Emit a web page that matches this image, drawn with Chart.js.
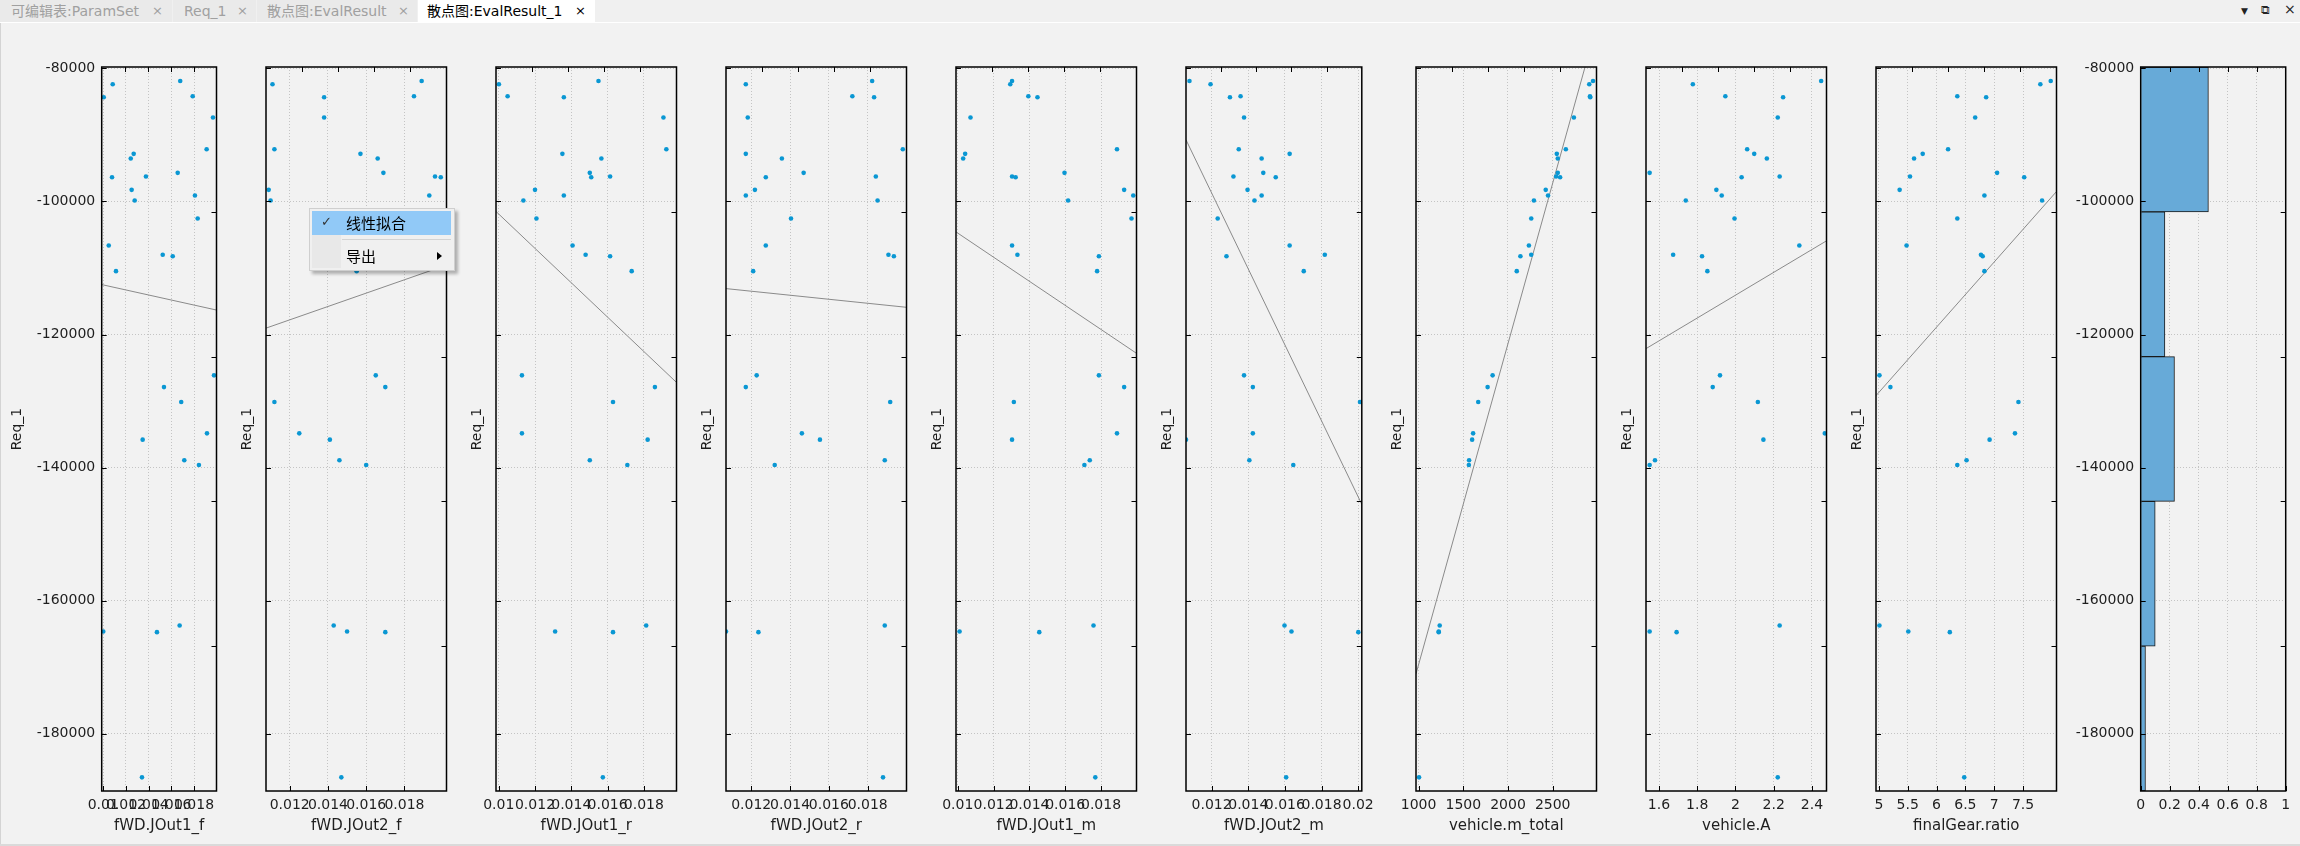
<!DOCTYPE html>
<html>
<head>
<meta charset="utf-8">
<script src="https://cdn.jsdelivr.net/npm/chart.js@4.4.0/dist/chart.umd.min.js"></script>
<style>
  body { margin: 0; width: 2300px; height: 846px; background: #f2f2f2; overflow: hidden; position: relative;
         font-family: "DejaVu Sans", "Noto Sans CJK SC", sans-serif; }
  #tabbar { position: absolute; left: 0; top: 0; width: 2300px; height: 22px; background: #f0f0f0; border-bottom: 1px solid #fff; }
  .tab { position: absolute; top: 0; height: 22px; line-height: 22px; font-size: 14px; color: #a0a0a0; background: #eaeaea; white-space: nowrap; }
  .tab.active { background: #fff; color: #000; }
  .tab .x { position: absolute; top: 0; font-size: 13px; }
  .win { position: absolute; top: 3px; font-size: 12px; color: #222; }
  .panel { position: absolute; top: 24px; }
  #leftline { position: absolute; left: 0; top: 23px; width: 1px; height: 823px; background: #d4d4d4; }
  #bottomline { position: absolute; left: 0; top: 844px; width: 2300px; height: 2px; background: #dadada; }
  #menu { position: absolute; left: 309px; top: 208px; width: 144px; height: 61px; background: #f0f0f0;
          border: 1px solid #cfcfcf; box-shadow: 3px 3px 3px rgba(0,0,0,0.28); font-family: "Noto Sans CJK SC", sans-serif; }
  #menu .icol { position: absolute; left: 2px; top: 2px; width: 29px; height: 57px; background: #e8e8e8; }
  #menu .hl { position: absolute; left: 2px; top: 2px; width: 139px; height: 24px; background: #91c9f7; }
  #menu .item { position: absolute; left: 36px; font-size: 15px; color: #000; line-height: 20px; }
  #menu .sep { position: absolute; left: 32px; top: 30px; width: 109px; height: 1px; background: #d3d3d3; }
  #menu .chk { position: absolute; left: 11px; top: 5px; font-size: 13px; color: #333; font-family: "DejaVu Sans"; }
  #menu .arr { position: absolute; left: 127px; top: 43px; width: 0; height: 0; border-top: 4px solid transparent;
               border-bottom: 4px solid transparent; border-left: 5px solid #000; }
</style>
</head>
<body>
<div id="tabbar">
  <div class="tab" style="left:0;width:172px"><span style="position:absolute;left:11px">可编辑表:ParamSet</span><span class="x" style="left:152px">×</span></div>
  <div class="tab" style="left:173px;width:83px"><span style="position:absolute;left:11px">Req_1</span><span class="x" style="left:64px">×</span></div>
  <div class="tab" style="left:257px;width:160px"><span style="position:absolute;left:10px">散点图:EvalResult</span><span class="x" style="left:141px">×</span></div>
  <div class="tab active" style="left:418px;width:177px"><span style="position:absolute;left:9px">散点图:EvalResult_1</span><span class="x" style="left:157px">×</span></div>
  <div class="win" style="left:2241px;font-size:9px;top:6px">▼</div>
  <div class="win" style="left:2261px">⧉</div>
  <div class="win" style="left:2284px;font-size:14px;top:1px">×</div>
</div>
<div id="leftline"></div>
<div id="bottomline"></div>
<div id="charts"></div>
<div id="menu">
  <div class="icol"></div>
  <div class="hl"></div>
  <div class="chk">✓</div>
  <div class="item" style="top:4px">线性拟合</div>
  <div class="sep"></div>
  <div class="item" style="top:37px">导出</div>
  <div class="arr"></div>
</div>
<script>
// Req_1 values (shared y of every scatter panel)
const req1 = [-81900, -82400, -84200, -84350, -87400, -92160, -92850, -93560, -95710, -96260,
              -96370, -98260, -99110, -99870, -102570, -106620, -108020, -108230, -110480, -126140,
              -127900, -130150, -134850, -135800, -138900, -139610, -163720, -164620, -164730, -186550];

// x values of each panel, same order as req1
const jout1F = [0.01678, 0.01083, 0.01788, 0.01004, 0.01967, 0.01911, 0.01268, 0.01242, 0.01656, 0.01376,
                0.01077, 0.01250, 0.01808, 0.01277, 0.01832, 0.01048, 0.01524, 0.01612, 0.01112, 0.01976,
                0.01535, 0.01687, 0.01914, 0.01347, 0.01714, 0.01843, 0.01673, 0.01000, 0.01473, 0.01341];
const jout2F = [0.0189, 0.0111, 0.0185, 0.0138, 0.0138, 0.0112, 0.0157, 0.0166, 0.0169, 0.0196,
                0.0199, 0.0109, 0.0193, 0.0110, 0.0140, 0.0165, 0.0170, 0.0172, 0.0155, 0.0165,
                0.0170, 0.0112, 0.0125, 0.0141, 0.0146, 0.0160, 0.0143, 0.0150, 0.0170, 0.0147];
const jout1R = [0.01550, 0.01001, 0.01049, 0.01359, 0.01908, 0.01924, 0.01351, 0.01566, 0.01502, 0.01614,
                0.01510, 0.01200, 0.01359, 0.01136, 0.01208, 0.01407, 0.01479, 0.01614, 0.01733, 0.01128,
                0.01861, 0.01630, 0.01128, 0.01821, 0.01502, 0.01709, 0.01813, 0.01311, 0.01630, 0.01574];
const jout2R = [0.01823, 0.01172, 0.01721, 0.01833, 0.01182, 0.01981, 0.01172, 0.01358, 0.01470, 0.01842,
                0.01275, 0.01219, 0.01172, 0.01851, 0.01405, 0.01275, 0.01907, 0.01935, 0.01210, 0.01228,
                0.01172, 0.01916, 0.01461, 0.01554, 0.01888, 0.01321, 0.01888, 0.01070, 0.01237, 0.01879];
const jout1M = [0.01303, 0.01293, 0.01394, 0.01445, 0.01071, 0.01889, 0.01041, 0.01030, 0.01596, 0.01303,
                0.01323, 0.01929, 0.01980, 0.01616, 0.01970, 0.01303, 0.01333, 0.01788, 0.01778, 0.01788,
                0.01929, 0.01313, 0.01889, 0.01303, 0.01737, 0.01707, 0.01758, 0.01010, 0.01455, 0.01768];
const jout2M = [0.01079, 0.01194, 0.01358, 0.01300, 0.01377, 0.01348, 0.01626, 0.01473, 0.01482, 0.01319,
                0.01550, 0.01396, 0.01473, 0.01434, 0.01233, 0.01626, 0.01818, 0.01281, 0.01703, 0.01377,
                0.01425, 0.02010, 0.01425, 0.01060, 0.01406, 0.01646, 0.01598, 0.01636, 0.02001, 0.01607];
const mTotal = [2951, 2909, 2917, 2920, 2737, 2647, 2546, 2557, 2557, 2538,
                2583, 2422, 2448, 2290, 2260, 2234, 2260, 2139, 2098, 1828,
                1772, 1667, 1610, 1599, 1565, 1562, 1236, 1225, 1225, 1005];
const vehA = [2.448, 1.777, 1.947, 2.249, 2.221, 2.061, 2.098, 2.164, 1.551, 2.231,
              2.032, 1.900, 1.928, 1.740, 1.995, 2.334, 1.674, 1.825, 1.853, 1.919,
              1.881, 2.117, 2.467, 2.146, 1.579, 1.551, 2.231, 1.551, 1.692, 2.221];
const gearRatio = [7.98, 7.80, 6.36, 6.86, 6.67, 6.20, 5.76, 5.61, 7.05, 5.54,
                   7.52, 5.36, 6.83, 7.83, 6.36, 5.48, 6.77, 6.80, 6.83, 5.01,
                   5.20, 7.42, 7.36, 6.92, 6.52, 6.36, 5.01, 5.51, 6.23, 6.48];

// axis names, ranges and tick labels
const xNames = ['fWD.JOut1_f', 'fWD.JOut2_f', 'fWD.JOut1_r', 'fWD.JOut2_r', 'fWD.JOut1_m',
                'fWD.JOut2_m', 'vehicle.m_total', 'vehicle.A', 'finalGear.ratio'];
const xSeries = [jout1F, jout2F, jout1R, jout2R, jout1M, jout2M, mTotal, vehA, gearRatio];
const xMins = [0.00986, 0.01076, 0.00985, 0.0107, 0.0099, 0.0106, 971, 1.532, 4.95];
const xMaxs = [0.01998, 0.0202, 0.01980, 0.0200, 0.01998, 0.0202, 2990, 2.476, 8.08];
const xTicks = [
  [0.01, 0.012, 0.014, 0.016, 0.018],
  [0.012, 0.014, 0.016, 0.018],
  [0.01, 0.012, 0.014, 0.016, 0.018],
  [0.012, 0.014, 0.016, 0.018],
  [0.01, 0.012, 0.014, 0.016, 0.018],
  [0.012, 0.014, 0.016, 0.018, 0.02],
  [1000, 1500, 2000, 2500],
  [1.6, 1.8, 2, 2.2, 2.4],
  [5, 5.5, 6, 6.5, 7, 7.5]
];
const shareTicks = [0, 0.2, 0.4, 0.6, 0.8, 1];

const yMin = -188600, yMax = -79800;
const yTicks = [-180000, -160000, -140000, -120000, -100000, -80000];

// histogram of Req_1 (share of samples per bin)
const binEdges = [-79800, -101560, -123320, -145080, -166840, -188600];
const histShare = [0.467, 0.167, 0.233, 0.100, 0.033];
const topTickFractions = [0.2, 0.4, 0.6, 0.8];

Chart.defaults.font.family = '"DejaVu Sans", sans-serif';
Chart.defaults.font.size = 14;
Chart.defaults.color = '#1e1e1e';

const fmt = v => String(Number(Number(v).toFixed(6)));

// inward tick marks on all four sides + black frame
const frameTicks = {
  id: 'frameTicks',
  afterDatasetsDraw(chart) {
    const ctx = chart.ctx, a = chart.chartArea;
    const sx = chart.scales.x, sy = chart.scales.y;
    const L = 5;
    ctx.save();
    ctx.strokeStyle = '#000';
    ctx.lineWidth = 1;
    ctx.beginPath();
    sx.ticks.forEach(t => {
      const p = Math.round(sx.getPixelForValue(t.value)) + 0.5;
      ctx.moveTo(p, a.bottom); ctx.lineTo(p, a.bottom - L);
    });
    sy.ticks.forEach(t => {
      const p = Math.round(sy.getPixelForValue(t.value)) + 0.5;
      ctx.moveTo(a.left, p); ctx.lineTo(a.left + L, p);
    });
    topTickFractions.forEach(f => {
      const p = Math.round(a.left + f * (a.right - a.left)) + 0.5;
      ctx.moveTo(p, a.top); ctx.lineTo(p, a.top + L);
    });
    binEdges.slice(1, -1).forEach(v => {
      const p = Math.round(sy.getPixelForValue(v)) + 0.5;
      ctx.moveTo(a.right, p); ctx.lineTo(a.right - L, p);
    });
    ctx.stroke();
    ctx.lineWidth = 1.5;
    ctx.strokeRect(a.left, a.top, a.right - a.left, a.bottom - a.top);
    ctx.restore();
  }
};

function makeCanvas(i) {
  const c = document.createElement('canvas');
  c.width = 230; c.height = 815;
  c.className = 'panel';
  c.style.left = (230 * i) + 'px';
  c.style.width = '230px'; c.style.height = '815px';
  document.getElementById('charts').appendChild(c);
  return c;
}

function xScale(min, max, ticks, title) {
  return {
    type: 'linear', position: 'bottom', min: min, max: max,
    afterFit: s => { s.height = 48; },
    afterBuildTicks: s => { s.ticks = ticks.map(v => ({ value: v })); },
    ticks: { autoSkip: false, maxRotation: 0, minRotation: 0, padding: 6, callback: fmt },
    grid: { color: '#c4c4c4', drawTicks: false },
    border: { display: false, dash: [1, 2] },
    title: { display: !!title, text: title, font: { size: 15 }, padding: { top: 0, bottom: 4 } }
  };
}

function yScale(width, showLabels, showTitle) {
  return {
    type: 'linear', position: 'left', min: yMin, max: yMax, offset: false,
    afterFit: s => { s.width = width; },
    afterBuildTicks: s => { s.ticks = yTicks.map(v => ({ value: v })); },
    ticks: { display: showLabels, padding: 6.5, callback: fmt },
    grid: { color: '#c4c4c4', drawTicks: false, offset: false },
    border: { display: false, dash: [1, 2] },
    title: { display: showTitle, text: 'Req_1', font: { size: 14 }, padding: { top: 8.5, bottom: 0 } }
  };
}

const yWidths = [101.7, 36, 36, 36, 36, 36, 36, 36, 36];

xSeries.forEach((xs, i) => {
  // least squares fit of Req_1 on x
  const n = xs.length;
  let sx = 0, sy = 0, sxx = 0, sxy = 0;
  for (let k = 0; k < n; k++) { sx += xs[k]; sy += req1[k]; sxx += xs[k] * xs[k]; sxy += xs[k] * req1[k]; }
  const b = (n * sxy - sx * sy) / (n * sxx - sx * sx);
  const a0 = (sy - b * sx) / n;
  const fit = [{ x: xMins[i], y: a0 + b * xMins[i] }, { x: xMaxs[i], y: a0 + b * xMaxs[i] }];

  new Chart(makeCanvas(i), {
    type: 'scatter',
    data: {
      datasets: [
        { data: xs.map((x, k) => ({ x: x, y: req1[k] })), backgroundColor: '#0a97d3', borderWidth: 0,
          pointRadius: 2.3, order: 1 },
        { type: 'line', data: fit, borderColor: '#8a8a8a', borderWidth: 1, pointRadius: 0, fill: false, order: 2 }
      ]
    },
    options: {
      responsive: false, devicePixelRatio: 1, animation: false,
      layout: { padding: { top: 43, right: 13.5, left: 0, bottom: 0 } },
      plugins: { legend: { display: false }, tooltip: { enabled: false } },
      scales: { x: xScale(xMins[i], xMaxs[i], xTicks[i], xNames[i]), y: yScale(yWidths[i], i === 0, true) }
    },
    plugins: [frameTicks]
  });
});

// histogram panel: bars sit on a hidden axis whose ticks are the bin edges
const binCenters = histShare.map((v, i) => (binEdges[i] + binEdges[i + 1]) / 2);
new Chart(makeCanvas(9), {
  type: 'bar',
  data: {
    datasets: [{
      yAxisID: 'yb',
      data: histShare.map((v, i) => ({ x: v, y: binCenters[i] })),
      backgroundColor: '#67aad8', borderColor: '#1a1a1a', borderWidth: 1, borderSkipped: 'start',
      barPercentage: 1, categoryPercentage: 1
    }]
  },
  options: {
    indexAxis: 'y',
    responsive: false, devicePixelRatio: 1, animation: false,
    layout: { padding: { top: 43, right: 14.3, left: 0, bottom: 0 } },
    plugins: { legend: { display: false }, tooltip: { enabled: false } },
    scales: {
      x: xScale(0, 1, shareTicks, ''),
      y: yScale(70.7, true, false),
      yb: {
        type: 'linear', display: false, position: 'left', min: yMin, max: yMax, offset: false,
        grid: { offset: false },
        afterBuildTicks: s => { s.ticks = binEdges.map(v => ({ value: v })); }
      }
    }
  },
  plugins: [frameTicks]
});
</script>
</body>
</html>
